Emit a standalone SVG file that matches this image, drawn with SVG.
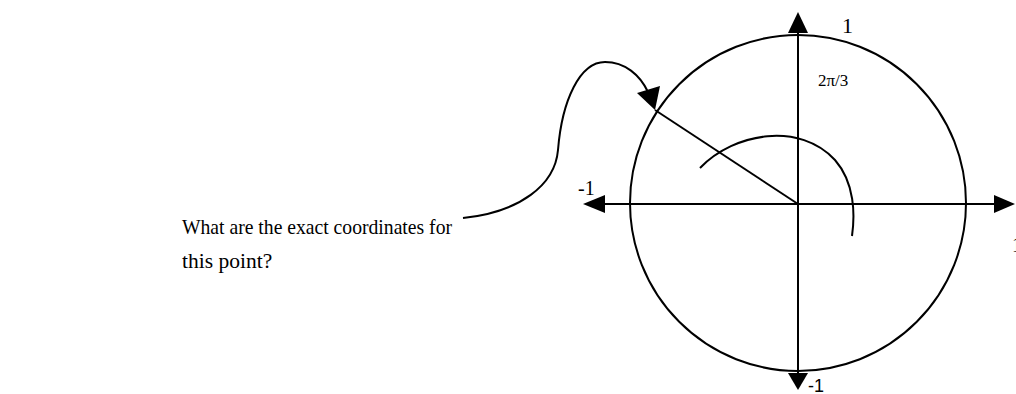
<svg xmlns="http://www.w3.org/2000/svg" width="1016" height="394" viewBox="0 0 1016 394">
<style>
.ln{fill:none;stroke:#000;stroke-width:2}
.ah{fill:#000;stroke:none}
.t{font-family:"Liberation Serif","Times New Roman",serif;fill:#000}
.s{font-family:"Liberation Sans",Arial,sans-serif;fill:#000}
</style>
<rect width="1016" height="394" fill="#fff"/>
<g id="circle">
<circle class="ln" cx="798" cy="203" r="168"/>
</g>
<g id="axes">
<line class="ln" x1="798" y1="30" x2="798" y2="376"/>
<polygon class="ah" points="798,12 788,33 808,33"/>
<polygon class="ah" points="798,390 788,373 808,373"/>
<line class="ln" x1="603" y1="204" x2="996" y2="204"/>
<polygon class="ah" points="583,204 605,195 605,213"/>
<polygon class="ah" points="1015,204 994,195 994,213"/>
<text class="t" x="842" y="33" font-size="22">1</text>
<text class="t" x="578" y="195" font-size="20">-1</text>
<text class="s" x="808" y="392" font-size="18">-1</text>
<text class="t" x="1012" y="252" font-size="20">1</text>
</g>
<g id="angle">
<line class="ln" x1="798" y1="204" x2="655" y2="110"/>
<path class="ln" d="M700,168 C735,132 800,122 835,160 C855,183 855,215 852,236"/>
<text class="t" x="818" y="86" font-size="17">2π/3</text>
</g>
<g id="question">
<text class="t" x="182" y="234" font-size="21.5" textLength="270" lengthAdjust="spacingAndGlyphs">What are the exact coordinates for</text>
<text class="t" x="182" y="268" font-size="21.5">this point?</text>
</g>
<g id="connectors">
<path class="ln" d="M463,218 C520,212 555,185 558,150 C562,100 580,62 605,62 C625,62 640,75 648,92"/>
<polygon class="ah" points="637,93 660,86 655,110"/>
</g>
</svg>
